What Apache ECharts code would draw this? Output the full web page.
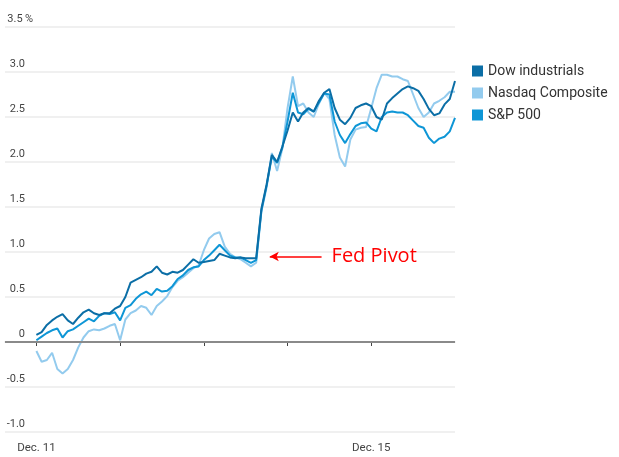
<!DOCTYPE html>
<html>
<head>
<meta charset="utf-8">
<script src="https://cdn.jsdelivr.net/npm/echarts@6/dist/echarts.min.js"></script>
<style>
html,body{margin:0;padding:0;background:#fff;}
#chart{width:619px;height:457px;}
</style>
</head>
<body>
<div id="chart"></div>
<script>
// 16 samples per trading day, Dec. 11 – Dec. 15
const pointsPerDay = 16;
const dayLabels = ['Dec. 11', 'Dec. 12', 'Dec. 13', 'Dec. 14', 'Dec. 15'];
const shownDayLabels = ['Dec. 11', 'Dec. 15'];
const yTicks = [-1.0, -0.5, 0, 0.5, 1.0, 1.5, 2.0, 2.5, 3.0, 3.5];

const dow = [
  0.08, 0.11, 0.19, 0.24, 0.28, 0.31, 0.24, 0.20, 0.27, 0.33, 0.36, 0.32, 0.30, 0.32, 0.32, 0.37,
  0.40, 0.50, 0.66, 0.69, 0.72, 0.76, 0.78, 0.84, 0.77, 0.75, 0.78, 0.77, 0.80, 0.86, 0.92, 0.88,
  0.89, 0.90, 0.91, 0.98, 0.96, 0.94, 0.93, 0.94, 0.93, 0.93, 0.93, 1.48, 1.75, 2.08, 2.00, 2.17,
  2.35, 2.55, 2.45, 2.55, 2.60, 2.56, 2.68, 2.77, 2.81, 2.60, 2.47, 2.42, 2.49, 2.60, 2.63, 2.65,
  2.62, 2.50, 2.47, 2.65, 2.71, 2.76, 2.81, 2.84, 2.82, 2.79, 2.70, 2.59, 2.52, 2.54, 2.64, 2.70,
  2.90
];
const nasdaq = [
  -0.10, -0.22, -0.20, -0.12, -0.30, -0.35, -0.30, -0.20, -0.06, 0.05, 0.12, 0.14, 0.13, 0.15, 0.18, 0.20,
  0.02, 0.25, 0.32, 0.35, 0.40, 0.38, 0.30, 0.40, 0.45, 0.51, 0.61, 0.68, 0.72, 0.77, 0.82, 0.85,
  1.02, 1.15, 1.20, 1.22, 1.06, 0.98, 0.94, 0.92, 0.88, 0.84, 0.88, 1.45, 1.72, 2.10, 1.90, 2.15,
  2.60, 2.95, 2.62, 2.65, 2.55, 2.50, 2.65, 2.77, 2.70, 2.30, 2.05, 1.95, 2.25, 2.36, 2.38, 2.39,
  2.60, 2.82, 2.97, 2.97, 2.95, 2.95, 2.92, 2.90, 2.75, 2.60, 2.50, 2.55, 2.65, 2.68, 2.72, 2.78,
  2.78
];
const sp500 = [
  0.02, 0.06, 0.10, 0.13, 0.15, 0.05, 0.12, 0.14, 0.18, 0.22, 0.26, 0.23, 0.29, 0.32, 0.31, 0.33,
  0.24, 0.38, 0.41, 0.48, 0.53, 0.56, 0.52, 0.59, 0.56, 0.57, 0.62, 0.70, 0.74, 0.80, 0.83, 0.84,
  0.91, 0.96, 1.02, 1.08, 1.02, 0.96, 0.94, 0.94, 0.91, 0.88, 0.91, 1.46, 1.74, 2.06, 1.99, 2.16,
  2.45, 2.77, 2.55, 2.53, 2.59, 2.56, 2.66, 2.76, 2.75, 2.45, 2.30, 2.21, 2.31, 2.40, 2.43, 2.44,
  2.37, 2.34, 2.50, 2.55, 2.56, 2.55, 2.55, 2.52, 2.46, 2.40, 2.38, 2.27, 2.21, 2.26, 2.28, 2.34,
  2.49
];
// Annotation anchor (in data units): arrow from pivot toward the label
const pivotArrow = { fromX: 44.6, toX: 54.5, y: 0.95, text: 'Fed Pivot' };

const seriesNames = ['Dow industrials', 'Nasdaq Composite', 'S&P 500'];
const colors = ['#0b6ea6', '#93cbee', '#0e96d6'];

const toPairs = arr => arr.map((v, i) => [i, v]);
const dayTicks = dayLabels.map((_, d) => d * pointsPerDay);
const labelTicks = dayLabels.map((l, d) => shownDayLabels.includes(l) ? d * pointsPerDay : null).filter(v => v !== null);

const chart = echarts.init(document.getElementById('chart'), null, { renderer: 'canvas' });
const font = 'Roboto, "Noto Sans", sans-serif';

function lineSeries(idx, values, z) {
  return {
    name: seriesNames[idx], type: 'line', data: toPairs(values), symbol: 'none',
    lineStyle: { width: 2, color: colors[idx] },
    itemStyle: { color: colors[idx] },
    z: z
  };
}

const dowSeries = lineSeries(0, dow, 4);
dowSeries.markLine = {
  silent: true,
  animation: false,
  data: [
    [
      { coord: [pivotArrow.fromX, pivotArrow.y], symbol: 'arrow', symbolSize: [7, 9] },
      { coord: [pivotArrow.toX, pivotArrow.y], symbol: 'none',
        label: { show: true, position: 'end', formatter: pivotArrow.text, color: '#ff0000', fontSize: 20, distance: 10, fontFamily: '"Open Sans", sans-serif' } }
    ]
  ],
  lineStyle: { color: '#ff0000', width: 1.5, type: 'solid' }
};

chart.setOption({
  animation: false,
  backgroundColor: '#fff',
  textStyle: { fontFamily: font },
  legend: {
    orient: 'vertical',
    left: 467,
    top: 59,
    icon: 'rect',
    itemWidth: 11,
    itemHeight: 11,
    itemGap: 8,
    textStyle: { fontSize: 14, color: '#333', fontFamily: font },
    data: seriesNames
  },
  grid: { left: 5, right: 164, top: 27, bottom: 25, containLabel: false },
  xAxis: {
    type: 'value',
    min: -6,
    max: dayLabels.length * pointsPerDay,
    splitLine: { show: false },
    axisLine: { show: true, lineStyle: { color: '#e6e6e6', width: 1.5 } },
    axisTick: { show: true, customValues: dayTicks, length: 4, lineStyle: { color: '#444', width: 1 } },
    axisLabel: {
      customValues: labelTicks,
      formatter: v => dayLabels[Math.round(v / pointsPerDay)],
      color: '#444',
      fontSize: 11.5,
      margin: 10,
      fontFamily: font
    }
  },
  yAxis: {
    type: 'value',
    min: -1,
    max: 3.5,
    interval: 0.5,
    axisLine: { show: false },
    axisTick: { show: false },
    splitLine: { show: true, lineStyle: { color: '#ebebeb', width: 1.5 } },
    axisLabel: {
      inside: true,
      align: 'left',
      verticalAlign: 'bottom',
      margin: 0,
      padding: [0, 0, 2, 0],
      color: '#444',
      fontSize: 11,
      fontFamily: font,
      formatter: v => {
        const s = v === 0 ? '0' : v.toFixed(1);
        return '{n|' + s + '}' + (v === yTicks[yTicks.length - 1] ? '%' : '');
      },
      rich: { n: { width: 20, align: 'right', fontSize: 11, color: '#444', fontFamily: font } }
    }
  },
  series: [
    lineSeries(1, nasdaq, 2),
    lineSeries(2, sp500, 3),
    dowSeries,
    {
      name: 'zero', type: 'line', data: [], silent: true,
      markLine: {
        silent: true, symbol: 'none', animation: false,
        label: { show: false },
        lineStyle: { color: '#8a8a8a', width: 2, type: 'solid' },
        data: [{ yAxis: 0 }]
      },
      z: 1
    }
  ]
});
</script>
</body>
</html>
